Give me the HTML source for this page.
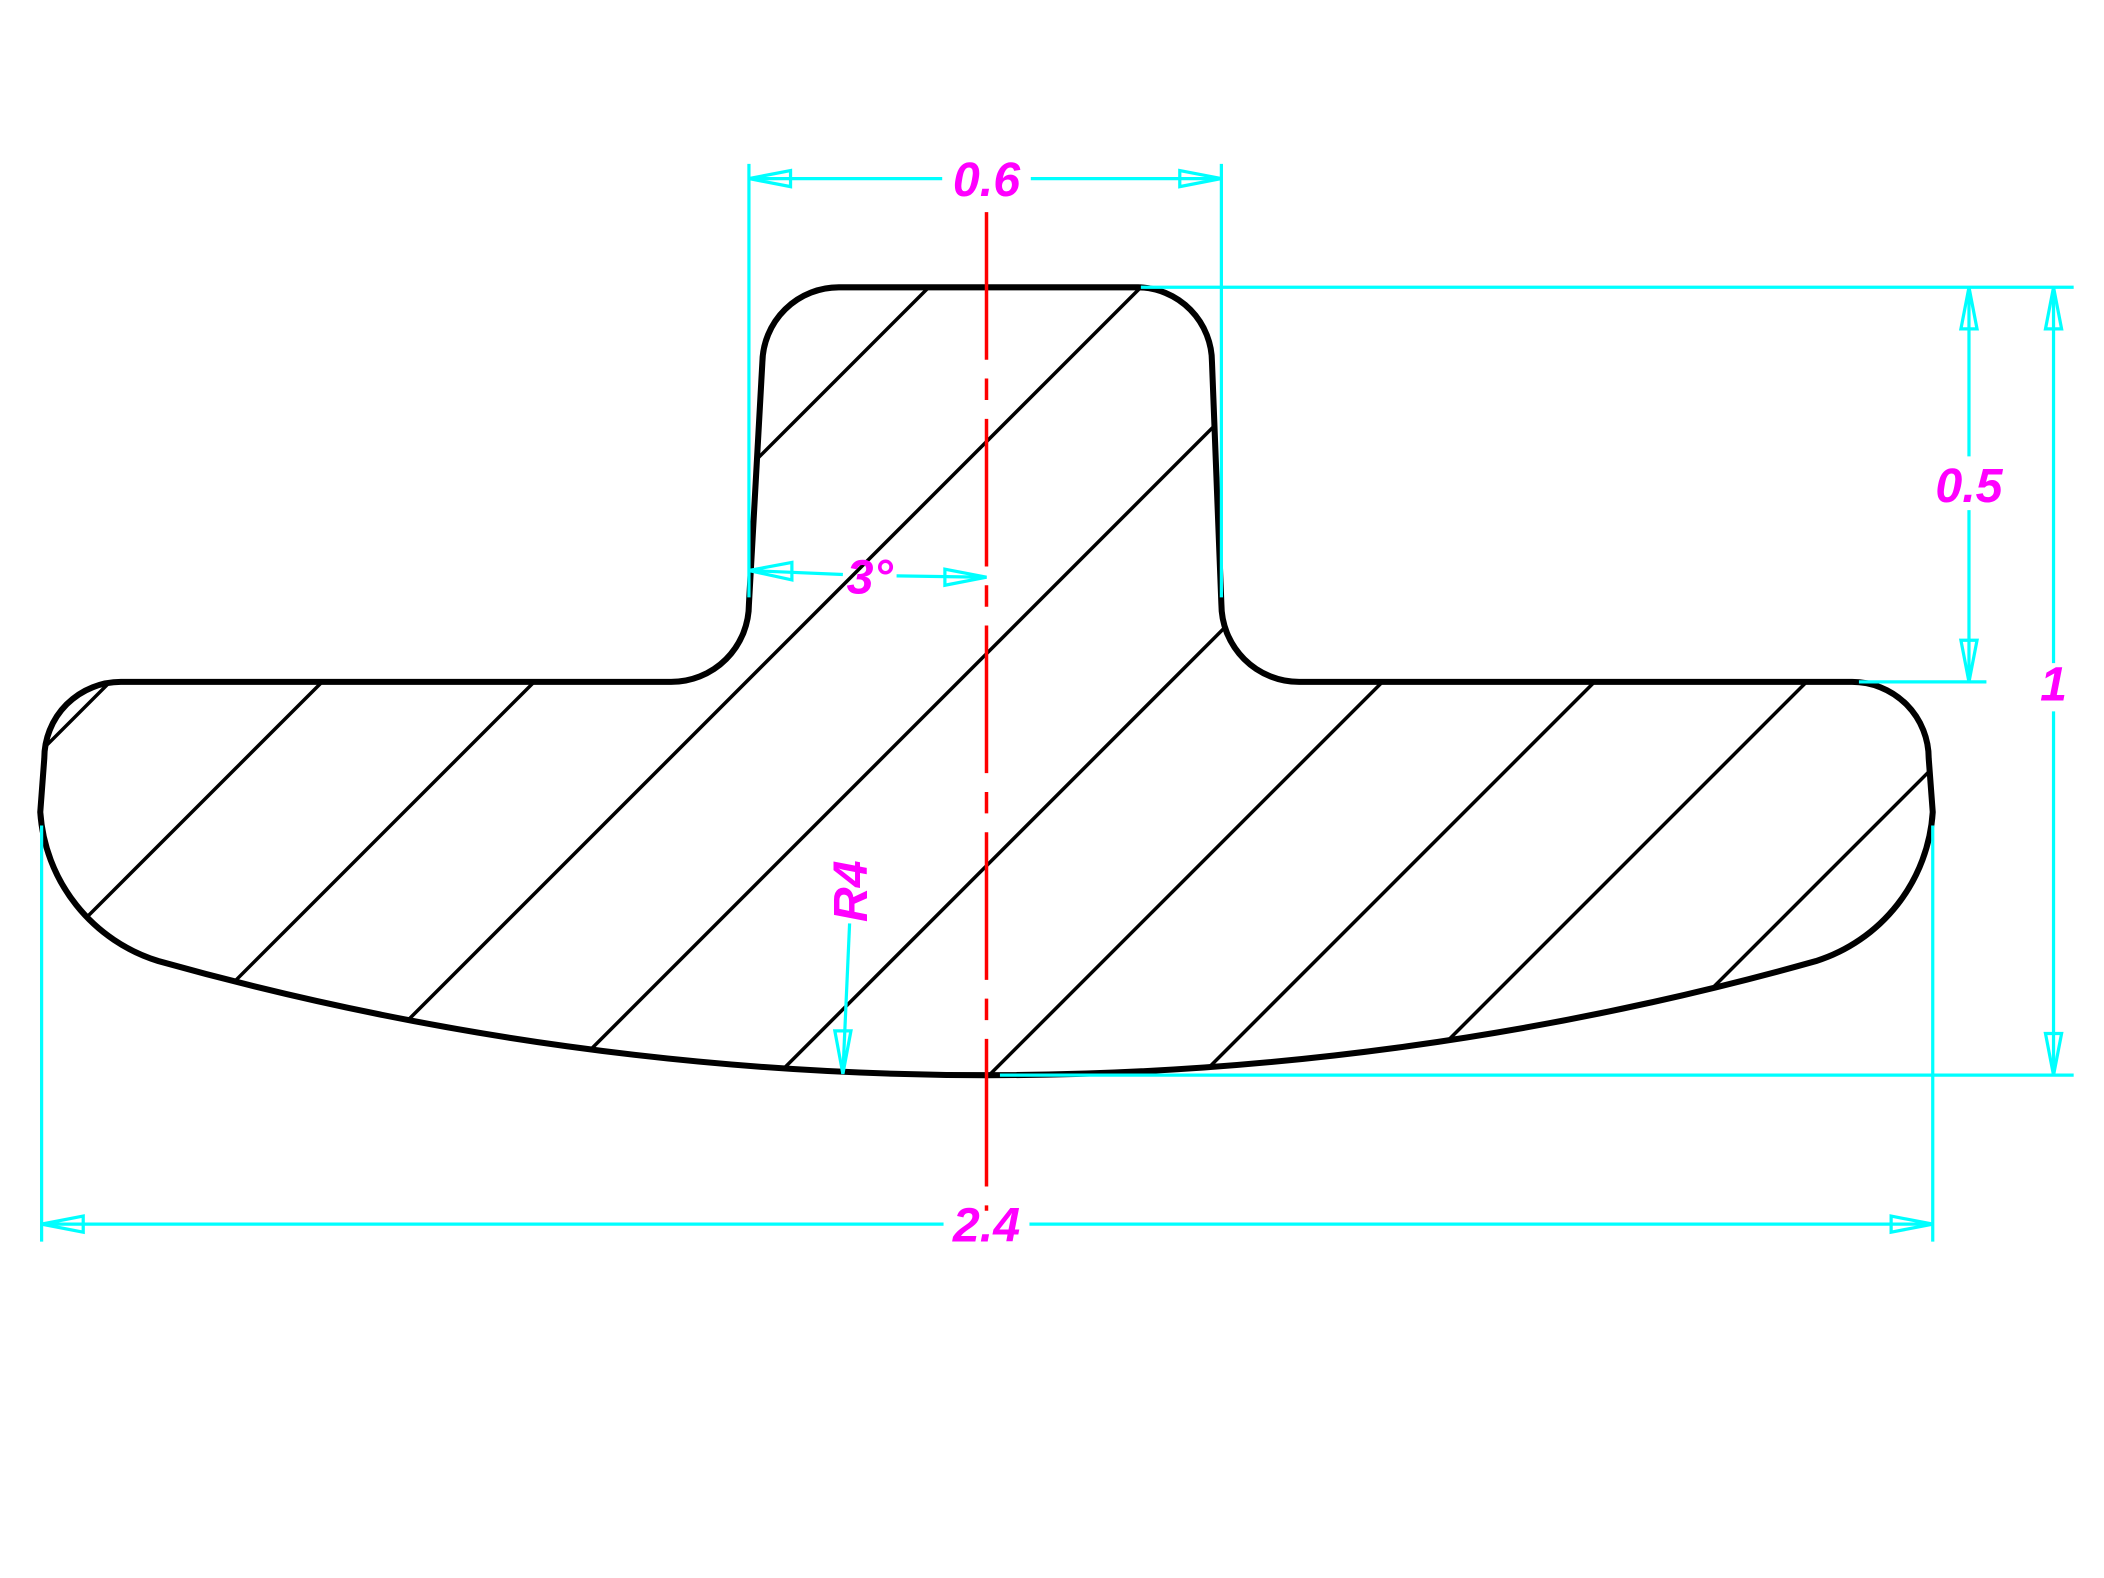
<!DOCTYPE html>
<html><head><meta charset="utf-8"><style>html,body{margin:0;padding:0;background:#fff;overflow:hidden;width:2104px;height:1578px}svg{display:block}</style></head>
<body>
<svg width="2104" height="1578" viewBox="0 0 1567.6 1175.6" xmlns="http://www.w3.org/2000/svg">
<defs>
<clipPath id="c"><path d="M625,214 L848,214 A56,56 0 0 1 903,270 L910,450 A58,58 0 0 0 968,508 L1380,508 A57,57 0 0 1 1437,565 L1440,605 A125,125 0 0 1 1353,716 A2285,2285 0 0 1 118,716 A125,125 0 0 1 30,605 L33,565 A57,57 0 0 1 90,508 L500,508 A58,58 0 0 0 558,450 L568,270 A57,57 0 0 1 625,214 Z"/></clipPath>
</defs>
<rect width="1570" height="1180" fill="#fff"/>
<g clip-path="url(#c)" stroke="#000" stroke-width="2.6">
<line x1="0" y1="590" x2="590" y2="0"/>
<line x1="0" y1="748" x2="748" y2="0"/>
<line x1="0" y1="906" x2="906" y2="0"/>
<line x1="0" y1="1064" x2="1064" y2="0"/>
<line x1="0" y1="1222" x2="1222" y2="0"/>
<line x1="0" y1="1380" x2="1380" y2="0"/>
<line x1="0" y1="1538" x2="1538" y2="0"/>
<line x1="0" y1="1696" x2="1696" y2="0"/>
<line x1="100" y1="1754" x2="1854" y2="0"/>
<line x1="200" y1="1812" x2="2012" y2="0"/>
</g>
<path d="M625,214 L848,214 A56,56 0 0 1 903,270 L910,450 A58,58 0 0 0 968,508 L1380,508 A57,57 0 0 1 1437,565 L1440,605 A125,125 0 0 1 1353,716 A2285,2285 0 0 1 118,716 A125,125 0 0 1 30,605 L33,565 A57,57 0 0 1 90,508 L500,508 A58,58 0 0 0 558,450 L568,270 A57,57 0 0 1 625,214 Z" fill="none" stroke="#000" stroke-width="4.5"/>
<line x1="735" y1="158" x2="735" y2="902" stroke="#f00" stroke-width="2.6" stroke-dasharray="110 14 16 14"/>
<g stroke="#0ff" stroke-width="2.4" fill="none">
<line x1="558" y1="122" x2="558" y2="445"/>
<line x1="910" y1="122" x2="910" y2="445"/>
<line x1="558" y1="133" x2="702" y2="133"/><line x1="768" y1="133" x2="910" y2="133"/>
<path d="M558,133 L589,127 L589,139 Z"/><path d="M910,133 L879,127 L879,139 Z"/>
<line x1="850" y1="214" x2="1545" y2="214"/>
<line x1="1385" y1="508" x2="1480" y2="508"/>
<line x1="745" y1="801" x2="1545" y2="801"/>
<line x1="1467" y1="214" x2="1467" y2="340"/><line x1="1467" y1="380" x2="1467" y2="508"/>
<path d="M1467,214 L1461,245 L1473,245 Z"/><path d="M1467,508 L1461,477 L1473,477 Z"/>
<line x1="1530" y1="214" x2="1530" y2="494"/><line x1="1530" y1="530" x2="1530" y2="801"/>
<path d="M1530,214 L1524,245 L1536,245 Z"/><path d="M1530,801 L1524,770 L1536,770 Z"/>
<line x1="31" y1="615" x2="31" y2="925"/>
<line x1="1440" y1="615" x2="1440" y2="925"/>
<line x1="31" y1="912" x2="703" y2="912"/><line x1="767" y1="912" x2="1440" y2="912"/>
<path d="M31,912 L62,906 L62,918 Z"/><path d="M1440,912 L1409,906 L1409,918 Z"/>
<line x1="558" y1="425" x2="628" y2="428"/><line x1="668" y1="429" x2="735" y2="430"/>
<path d="M558,425 L590,419 L590,432 Z"/><path d="M735,430 L704,424 L704,436 Z"/>
<line x1="633" y1="688" x2="628" y2="800"/>
<path d="M628,800 L622,768 L634,768 Z"/>
</g>
<g fill="#f0f" font-family="Liberation Sans, sans-serif" font-style="italic" font-weight="bold" font-size="36" text-anchor="middle">
<text x="735" y="146">0.6</text>
<text x="1467" y="374">0.5</text>
<text x="1530" y="522">1</text>
<text x="735" y="925">2.4</text>
<text x="648" y="442">3°</text>
<text transform="translate(646,664) rotate(-90)">R4</text>
</g>
</svg>
</body></html>
